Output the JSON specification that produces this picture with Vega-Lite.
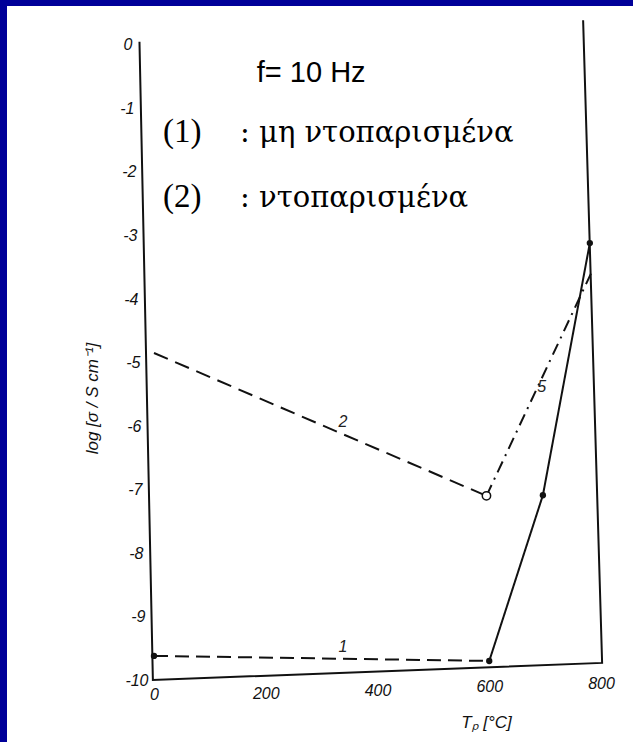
{
  "$schema": "https://vega.github.io/schema/vega-lite/v6.json",
  "width": 626,
  "height": 736,
  "autosize": {"type": "none"},
  "padding": {"left": 7, "top": 6, "right": 0, "bottom": 0},
  "background": "#000099",
  "view": {"fill": "white", "stroke": null},
  "config": {
    "axis": {
      "labelFont": "Liberation Sans",
      "labelFontStyle": "italic",
      "labelFontSize": 16,
      "labelColor": "#111111",
      "titleFont": "Liberation Sans",
      "titleFontStyle": "italic",
      "titleFontWeight": "normal",
      "titleFontSize": 17,
      "titleColor": "#111111",
      "grid": false,
      "domain": false,
      "ticks": false
    }
  },
  "datasets": {
    "frame": [
      {"o": 1, "x": -26, "y": 0.05},
      {"o": 2, "x": -2, "y": -10},
      {"o": 3, "x": 802, "y": -9.73},
      {"o": 4, "x": 768, "y": 0.39}
    ],
    "curves": [
      {"seg": "1a", "x": 0, "y": -9.62},
      {"seg": "1a", "x": 600, "y": -9.7},
      {"seg": "1b", "x": 600, "y": -9.7},
      {"seg": "1b", "x": 696, "y": -7.09},
      {"seg": "1b", "x": 780, "y": -3.12},
      {"seg": "2a", "x": 0, "y": -4.85},
      {"seg": "2a", "x": 595, "y": -7.1},
      {"seg": "2b", "x": 595, "y": -7.1},
      {"seg": "2b", "x": 782, "y": -3.6}
    ],
    "points": [
      {"kind": "filled", "x": 0, "y": -9.62},
      {"kind": "filled", "x": 600, "y": -9.7},
      {"kind": "filled", "x": 696, "y": -7.09},
      {"kind": "filled", "x": 780, "y": -3.12},
      {"kind": "open", "x": 595, "y": -7.1}
    ],
    "curveLabels": [
      {"t": "1", "x": 338, "y": -9.48},
      {"t": "2", "x": 338, "y": -5.94},
      {"t": "5", "x": 694, "y": -5.38}
    ],
    "notes": [
      {"t": "f= 10 Hz", "x": 184, "y": -0.58, "style": "sans"},
      {"t": "(1)", "x": 16, "y": -1.53, "style": "paren"},
      {"t": ": μη ντοπαρισμένα", "x": 154, "y": -1.53, "style": "greek"},
      {"t": "(2)", "x": 16, "y": -2.55, "style": "paren"},
      {"t": ": ντοπαρισμένα", "x": 154, "y": -2.55, "style": "greek"}
    ]
  },
  "layer": [
    {
      "data": {"name": "frame"},
      "mark": {"type": "line", "color": "#111111", "strokeWidth": 2},
      "encoding": {
        "x": {
          "field": "x", "type": "quantitative",
          "scale": {"domain": [-263.09, 857.27], "nice": false, "zero": false},
          "axis": {
            "values": [0, 200, 400, 600, 800],
            "offset": -70,
            "labelPadding": {
              "condition": [
                {"test": "datum.value <= 0", "value": 14},
                {"test": "datum.value <= 200", "value": 13},
                {"test": "datum.value <= 400", "value": 10},
                {"test": "datum.value <= 600", "value": 6}
              ],
              "value": 3
            },
            "title": "Tₚ [°C]",
            "titleX": 479,
            "titleY": 50,
            "titleBaseline": "middle"
          }
        },
        "y": {
          "field": "y", "type": "quantitative",
          "scale": {"domain": [-10.976, 0.614], "nice": false, "zero": false},
          "axis": {
            "values": [0, -1, -2, -3, -4, -5, -6, -7, -8, -9, -10],
            "labelExpr": "'' + datum.value",
            "offset": -147,
            "labelPadding": {
              "condition": [
                {"test": "datum.value >= 0", "value": 22},
                {"test": "datum.value >= -1", "value": 20},
                {"test": "datum.value >= -2", "value": 18},
                {"test": "datum.value >= -3", "value": 17},
                {"test": "datum.value >= -4", "value": 16},
                {"test": "datum.value >= -5", "value": 14},
                {"test": "datum.value >= -6", "value": 13},
                {"test": "datum.value >= -7", "value": 12},
                {"test": "datum.value >= -8", "value": 11},
                {"test": "datum.value >= -9", "value": 9}
              ],
              "value": 6
            },
            "title": "log [σ / S cm⁻¹]",
            "titleX": -62,
            "titleY": 392,
            "titleBaseline": "middle"
          }
        },
        "order": {"field": "o", "type": "quantitative"}
      }
    },
    {
      "data": {"name": "curves"},
      "mark": {"type": "line", "color": "#111111", "strokeWidth": 2},
      "encoding": {
        "x": {"field": "x", "type": "quantitative"},
        "y": {"field": "y", "type": "quantitative"},
        "detail": {"field": "seg"},
        "strokeDash": {
          "field": "seg", "type": "nominal",
          "scale": {"domain": ["1a", "1b", "2a", "2b"], "range": [[14, 7], [1, 0], [15, 8], [12, 6, 2, 6]]},
          "legend": null
        }
      }
    },
    {
      "data": {"name": "points"},
      "transform": [{"filter": "datum.kind === 'filled'"}],
      "mark": {"type": "point", "filled": true, "color": "#111111", "size": 40, "opacity": 1},
      "encoding": {
        "x": {"field": "x", "type": "quantitative"},
        "y": {"field": "y", "type": "quantitative"}
      }
    },
    {
      "data": {"name": "points"},
      "transform": [{"filter": "datum.kind === 'open'"}],
      "mark": {"type": "point", "filled": false, "fill": "white", "stroke": "#111111", "strokeWidth": 1.5, "size": 70, "opacity": 1},
      "encoding": {
        "x": {"field": "x", "type": "quantitative"},
        "y": {"field": "y", "type": "quantitative"}
      }
    },
    {
      "data": {"name": "curveLabels"},
      "mark": {"type": "text", "font": "Liberation Sans", "fontStyle": "italic", "fontSize": 16, "color": "#222222", "baseline": "middle", "align": "center"},
      "encoding": {
        "x": {"field": "x", "type": "quantitative"},
        "y": {"field": "y", "type": "quantitative"},
        "text": {"field": "t"}
      }
    },
    {
      "data": {"name": "notes"},
      "transform": [{"filter": "datum.style === 'sans'"}],
      "mark": {"type": "text", "font": "Liberation Sans", "fontSize": 29, "color": "black", "align": "left", "baseline": "alphabetic"},
      "encoding": {
        "x": {"field": "x", "type": "quantitative"},
        "y": {"field": "y", "type": "quantitative"},
        "text": {"field": "t"}
      }
    },
    {
      "data": {"name": "notes"},
      "transform": [{"filter": "datum.style === 'paren'"}],
      "mark": {"type": "text", "font": "Liberation Serif", "fontSize": 33, "color": "black", "align": "left", "baseline": "alphabetic"},
      "encoding": {
        "x": {"field": "x", "type": "quantitative"},
        "y": {"field": "y", "type": "quantitative"},
        "text": {"field": "t"}
      }
    },
    {
      "data": {"name": "notes"},
      "transform": [{"filter": "datum.style === 'greek'"}],
      "mark": {"type": "text", "font": "DejaVu Serif", "fontSize": 29, "color": "black", "align": "left", "baseline": "alphabetic"},
      "encoding": {
        "x": {"field": "x", "type": "quantitative"},
        "y": {"field": "y", "type": "quantitative"},
        "text": {"field": "t"}
      }
    }
  ]
}
